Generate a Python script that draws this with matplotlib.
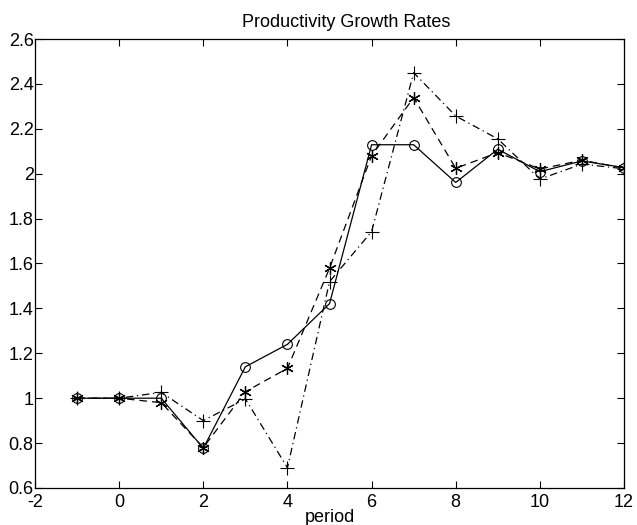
import numpy as np
import matplotlib
matplotlib.use("Agg")
import matplotlib.pyplot as plt

plt.rcParams['font.family'] = ['Liberation Sans', 'DejaVu Sans']

period = [-1, 0, 1, 2, 3, 4, 5, 6, 7, 8, 9, 10, 11, 12]
# solid / circles
s_circ = [1.0, 1.0, 1.0, 0.777, 1.14, 1.24, 1.421, 2.129, 2.129, 1.961, 2.109, 2.009, 2.057, 2.027]
# dashed / asterisks
s_star = [1.0, 1.0, 0.98, 0.78, 1.029, 1.133, 1.579, 2.08, 2.339, 2.024, 2.094, 2.021, 2.06, 2.025]
# dash-dot / plus
s_plus = [1.0, 1.0, 1.026, 0.90, 0.997, 0.69, 1.519, 1.742, 2.45, 2.257, 2.155, 1.976, 2.043, 2.022]

xticks = np.arange(-2, 13, 2)
yticks = np.arange(0.6, 2.61, 0.2)

fig = plt.figure(figsize=(6.37, 5.25), dpi=100)
ax = fig.add_axes([0.055, 0.0705, 0.9246, 0.8552])

lw = 0.9
ax.plot(period, s_circ, '-', color='k', lw=lw, marker='o', ms=7, mfc='none', mew=0.8)
ax.plot(period, s_star, '--', color='k', lw=lw, dashes=(6, 4), marker=(6, 2, 0), ms=9, mew=0.9)
ax.plot(period, s_plus, '-.', color='k', lw=lw, dashes=(6, 3, 1, 3), marker='+', ms=10, mew=0.8)

ax.set_xlim(-2, 12)
ax.set_ylim(0.6, 2.6)
ax.set_xticks(xticks)
ax.set_xticklabels([f"{t:d}" for t in xticks])
ax.set_yticks(yticks)
ax.set_yticklabels([f"{v:g}" for v in np.round(yticks, 1)])
ax.tick_params(direction='in', top=True, right=True, length=5, width=0.8, labelsize=13)
ax.tick_params(axis='x', pad=4)
ax.tick_params(axis='y', pad=1)
for sp in ax.spines.values():
    sp.set_linewidth(0.9)

ax.set_title("Productivity Growth Rates", fontsize=13, pad=8.6, x=0.528)
ax.set_xlabel("period", fontsize=13)
ax.xaxis.set_label_coords(0.5, -0.047)

fig.savefig("out.png", dpi=100)
